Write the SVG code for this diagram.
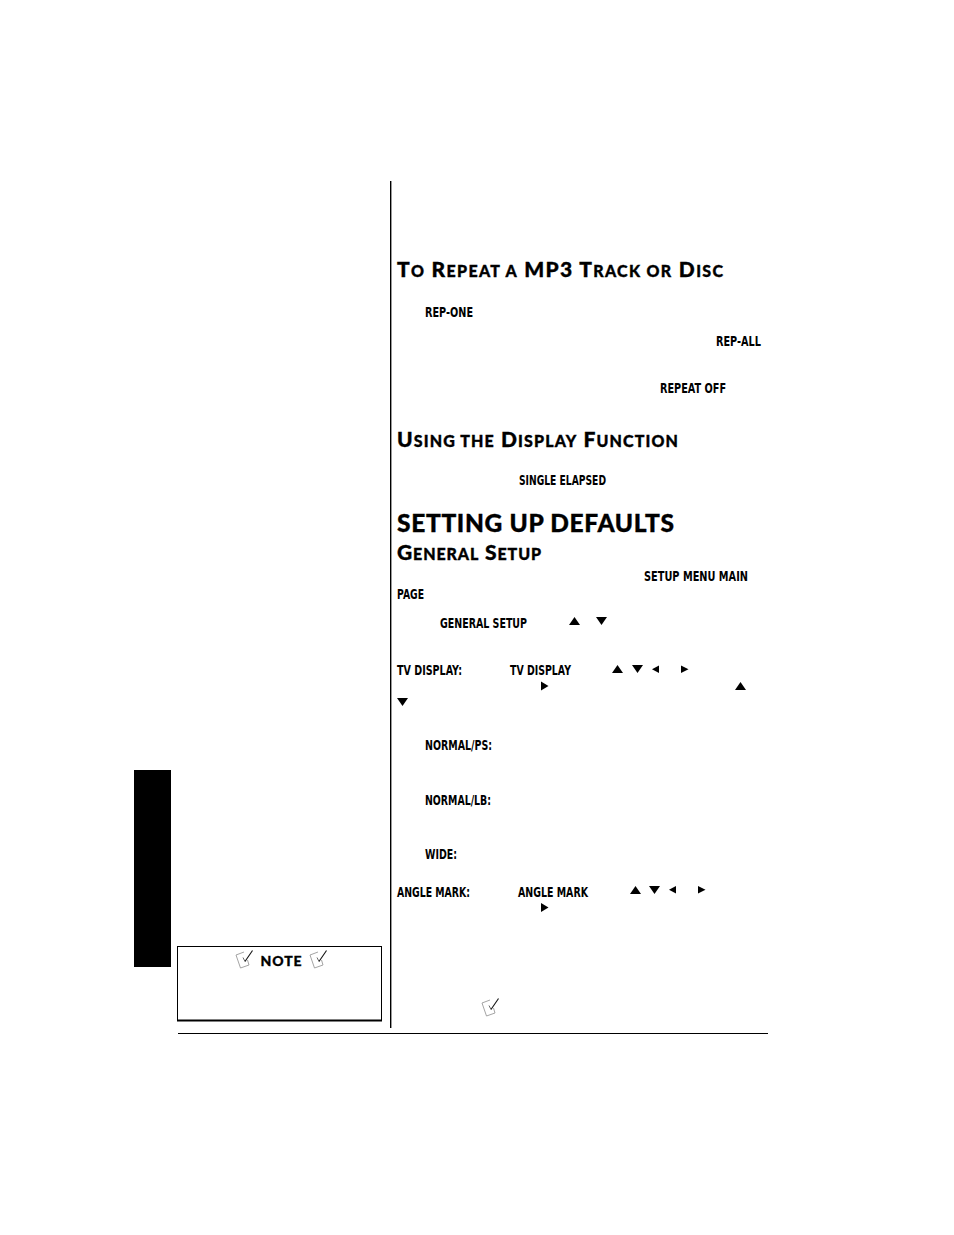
<svg xmlns="http://www.w3.org/2000/svg" width="954" height="1235" viewBox="0 0 954 1235">
<style>
.h{font-family:"Lato","Open Sans",sans-serif;font-weight:900;fill:#000;stroke:#000;stroke-width:.35px}
.h1{font-size:21px}
.s{font-size:16px}
.t{font-size:24.5px}
.l{font-family:"DejaVu Sans","Liberation Sans",sans-serif;font-weight:700;font-size:13.5px;fill:#000}
.n{font-family:"Lato","Open Sans",sans-serif;font-weight:900;font-size:14px;fill:#000;stroke:#000;stroke-width:.3px}
.r{stroke:#000;fill:none}
</style>
<defs>
<polygon id="up" points="5.5,0 11,8 0,8" fill="#000"/>
<polygon id="dn" points="0,0 11,0 5.5,8" fill="#000"/>
<polygon id="lf" points="7,0 7,7.5 0,3.75" fill="#000"/>
<polygon id="rt" points="0,0 7.500,3.750 0,7.500" fill="#000"/>
<polygon id="rb" points="0,0 7.500,4.500 0,9" fill="#000"/>
<g id="ic">
<path d="M0,5 L8,2 M0,5 L4.500,18 L13,15 L11.500,10" fill="none" stroke="#9a9a9a" stroke-width="0.9"/>
<path d="M9,11.500 L16.500,0.500" fill="none" stroke="#111" stroke-width="1.100"/>
<path d="M7,7.500 L9,11.500" fill="none" stroke="#444" stroke-width="0.8"/>
</g>
</defs>
<rect width="954" height="1235" fill="#fff"/>
<g id="rules">
<line class="r" x1="390.700" y1="181" x2="390.700" y2="1028" stroke-width="1.4"/>
<line class="r" x1="178" y1="1033.500" x2="768" y2="1033.500" stroke-width="1.200"/>
</g>
<rect id="tab" x="134" y="770" width="37" height="197" fill="#000"/>
<g id="note">
<rect x="177.500" y="946.500" width="204" height="74" fill="none" stroke="#000" stroke-width="1"/>
<line class="r" x1="177" y1="1020.500" x2="382" y2="1020.500" stroke-width="2"/>
<use href="#ic" x="236" y="950"/>
<text class="n" x="260.500" y="965.500" textLength="41" lengthAdjust="spacing">NOTE</text>
<use href="#ic" x="310" y="950"/>
</g>
<g id="headings">
<text class="h h1" x="397" y="277" textLength="326" lengthAdjust="spacing">T<tspan class="s">O</tspan> R<tspan class="s">EPEAT A</tspan> MP3 T<tspan class="s">RACK OR</tspan> D<tspan class="s">ISC</tspan></text>
<text class="h h1" x="397" y="447" textLength="281" lengthAdjust="spacing">U<tspan class="s">SING THE</tspan> D<tspan class="s">ISPLAY</tspan> F<tspan class="s">UNCTION</tspan></text>
<text class="h t" x="397" y="531.500" textLength="277" lengthAdjust="spacing">SETTING UP DEFAULTS</text>
<text class="h h1" x="397" y="560" textLength="144" lengthAdjust="spacing">G<tspan class="s">ENERAL</tspan> S<tspan class="s">ETUP</tspan></text>
</g>
<g id="labels">
<text class="l" x="425" y="316.500" textLength="48" lengthAdjust="spacingAndGlyphs">REP-ONE</text>
<text class="l" x="716" y="345.500" textLength="45" lengthAdjust="spacingAndGlyphs">REP-ALL</text>
<text class="l" x="660" y="392.500" textLength="66" lengthAdjust="spacingAndGlyphs">REPEAT OFF</text>
<text class="l" x="519" y="484.500" textLength="87" lengthAdjust="spacingAndGlyphs">SINGLE ELAPSED</text>
<text class="l" x="644" y="581" textLength="104" lengthAdjust="spacingAndGlyphs">SETUP MENU MAIN</text>
<text class="l" x="397" y="598.500" textLength="27" lengthAdjust="spacingAndGlyphs">PAGE</text>
<text class="l" x="440" y="627.500" textLength="87" lengthAdjust="spacingAndGlyphs">GENERAL SETUP</text>
<text class="l" x="397" y="675" textLength="65" lengthAdjust="spacingAndGlyphs">TV DISPLAY:</text>
<text class="l" x="510" y="675" textLength="61" lengthAdjust="spacingAndGlyphs">TV DISPLAY</text>
<text class="l" x="425" y="750" textLength="67" lengthAdjust="spacingAndGlyphs">NORMAL/PS:</text>
<text class="l" x="425" y="804.500" textLength="66" lengthAdjust="spacingAndGlyphs">NORMAL/LB:</text>
<text class="l" x="425" y="859" textLength="32" lengthAdjust="spacingAndGlyphs">WIDE:</text>
<text class="l" x="397" y="896.500" textLength="73" lengthAdjust="spacingAndGlyphs">ANGLE MARK:</text>
<text class="l" x="518" y="896.500" textLength="70" lengthAdjust="spacingAndGlyphs">ANGLE MARK</text>
</g>
<g id="arrows">
<use href="#up" x="569" y="617"/><use href="#dn" x="596" y="617"/>
<use href="#up" x="612" y="665"/><use href="#dn" x="632" y="665"/><use href="#lf" x="652" y="665.500"/><use href="#rt" x="681" y="665.500"/>
<use href="#rb" x="541" y="681.500"/><use href="#up" x="735" y="682"/><use href="#dn" x="397" y="698"/>
<use href="#up" x="630" y="886"/><use href="#dn" x="649" y="886"/><use href="#lf" x="669" y="886"/><use href="#rt" x="698" y="886"/>
<use href="#rb" x="541" y="903"/>
<use href="#ic" x="482" y="998"/>
</g>
</svg>
